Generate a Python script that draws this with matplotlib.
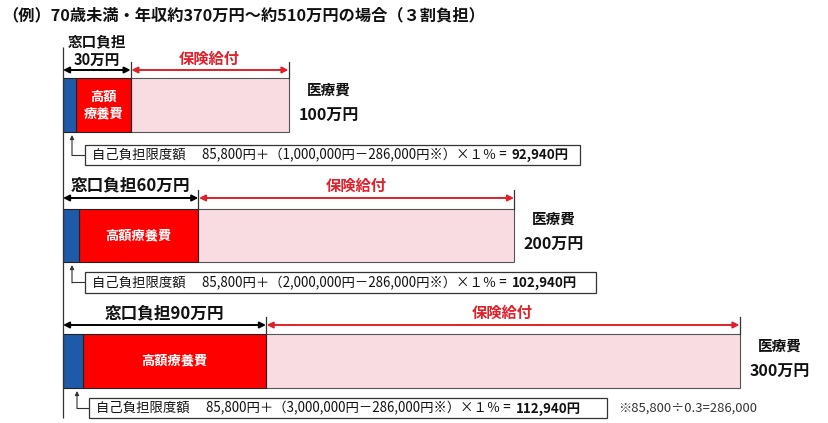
import matplotlib
matplotlib.use("Agg")
import matplotlib.pyplot as plt
from matplotlib.patches import Rectangle

plt.rcParams['font.family'] = ['Noto Sans CJK JP', 'DejaVu Sans']

# ---------------- data ----------------
title = "（例）70歳未満・年収約370万円～約510万円の場合（３割負担）"
totals = [100, 200, 300]            # 医療費 (万円)
window_pay = [30, 60, 90]           # 窓口負担 (万円)
limit_bar = [5.8, 7.1, 8.9]         # 自己負担限度額 segment as drawn (万円)
total_labels = ["100万円", "200万円", "300万円"]
window_labels = ["窓口負担\n30万円", "窓口負担60万円", "窓口負担90万円"]
kougaku_labels = ["高額\n療養費", "高額療養費", "高額療養費"]
benefit_label = "保険給付"
cost_caption = "医療費"
cost_yen = ["1,000,000", "2,000,000", "3,000,000"]
limit_yen = ["92,940", "102,940", "112,940"]
footnote = "※85,800÷0.3=286,000"

# ---------------- layout (pixels) ----------------
W, H = 829, 423
X0, S = 63.0, 2.255          # pixel of 0 yen, pixels per 万円
rows = [
    dict(top=78, bot=132, arrow=70, tick=62, label_y=50.5, wfs=10.5, ben_y=59,
         cap_y=90, amt_y=116, box_top=145, box_bot=165, box_left=85, box_right=580,
         small_x=72),
    dict(top=209, bot=262, arrow=198, tick=190, label_y=185, wfs=12, ben_y=186,
         cap_y=219, amt_y=245, box_top=272, box_bot=293, box_left=85, box_right=596,
         small_x=72),
    dict(top=334, bot=388, arrow=325, tick=317, label_y=313, wfs=12, ben_y=313,
         cap_y=346, amt_y=372, box_top=398, box_bot=418, box_left=89, box_right=607,
         small_x=77),
]

def px(x):
    return (x - X0) / S

BLUE = '#1F5AA8'
RED = '#FF0000'
PINK = '#F8DCE2'
ARROW_RED = '#E0202A'
EDGE = '#333333'

fig = plt.figure(figsize=(W / 100, H / 100), dpi=100)
ax = fig.add_axes([0, 0, 1, 1])
ax.set_xlim(px(0), px(W))
ax.set_ylim(H, 0)
ax.axis('off')

ax.text(px(2), 15, title, fontsize=11.7, fontweight='bold', ha='left', va='center',
        color='#111111')

# left reference line
ax.plot([0, 0], [47, 418], color=EDGE, lw=0.9, solid_capstyle='butt')

fig.canvas.draw()
renderer = fig.canvas.get_renderer()
inv = ax.transData.inverted()

for i, r in enumerate(rows):
    yc = (r['top'] + r['bot']) / 2
    h = r['bot'] - r['top']
    lim, win, tot = limit_bar[i], window_pay[i], totals[i]

    ax.barh(yc, tot - win, height=h, left=win, color=PINK, edgecolor='#555555', lw=0.8)
    ax.barh(yc, win - lim, height=h, left=lim, color=RED, edgecolor='#222222', lw=0.8)
    ax.barh(yc, lim, height=h, left=0, color=BLUE, edgecolor='#222222', lw=0.8)

    ax.text((lim + win) / 2, yc, kougaku_labels[i], color='white', fontsize=9.5,
            fontweight='bold', ha='center', va='center', linespacing=1.25)

    # ticks
    ax.plot([win, win], [r['tick'], r['top']], color=EDGE, lw=0.9)
    ax.plot([tot, tot], [r['tick'], r['top']], color=EDGE, lw=0.9)

    # arrows
    ax.annotate('', xy=(win, r['arrow']), xytext=(0, r['arrow']),
                arrowprops=dict(arrowstyle='<|-|>', color='black', lw=1.4,
                                mutation_scale=9, shrinkA=0, shrinkB=0))
    ax.annotate('', xy=(tot, r['arrow']), xytext=(win, r['arrow']),
                arrowprops=dict(arrowstyle='<|-|>', color=ARROW_RED, lw=1.4,
                                mutation_scale=9, shrinkA=0.5, shrinkB=0))

    ax.text(win / 2, r['label_y'], window_labels[i], fontsize=r['wfs'], fontweight='bold',
            ha='center', va='center', linespacing=1.15, color='#111111')
    ax.text((win + tot) / 2, r['ben_y'], benefit_label, fontsize=11, fontweight='bold',
            ha='center', va='center', color=ARROW_RED)

    capx = tot + px(X0 + 40)
    ax.text(capx, r['cap_y'], cost_caption, fontsize=10.5, fontweight='bold',
            ha='center', va='center', color='#111111')
    ax.text(capx, r['amt_y'], total_labels[i], fontsize=11.5, fontweight='bold',
            ha='center', va='center', color='#111111')

    # formula box
    cy = (r['box_top'] + r['box_bot']) / 2
    sx = px(r['small_x'])
    ax.annotate('', xy=(sx, r['bot'] + 3), xytext=(sx, cy + 0.5),
                arrowprops=dict(arrowstyle='-|>', color=EDGE, lw=0.8,
                                mutation_scale=6, shrinkA=0, shrinkB=0))
    ax.plot([sx, px(r['box_left'])], [cy, cy], color=EDGE, lw=0.8)

    xl = px(r['box_left'])
    xr = px(r['box_right'])
    ax.add_patch(Rectangle((xl, r['box_top']), xr - xl, r['box_bot'] - r['box_top'],
                           facecolor='white', edgecolor=EDGE, lw=0.9, zorder=4))
    t1 = ax.text(px(r['box_left'] + 7), cy + 0.5,
                 f"自己負担限度額　 85,800円＋（{cost_yen[i]}円－286,000円※）×１％ =",
                 fontsize=9.6, ha='left', va='center', color='#111111', zorder=5)
    bb = t1.get_window_extent(renderer)
    xe = inv.transform((bb.x1 + 5, bb.y0))[0]
    ax.text(xe, cy + 0.5, f"{limit_yen[i]}円", fontsize=9.6, fontweight='bold',
            ha='left', va='center', color='#111111', zorder=5)

ax.text(px(618), 408, footnote, fontsize=9.4, ha='left', va='center', color='#333333')

fig.savefig('out.png', dpi=100)
